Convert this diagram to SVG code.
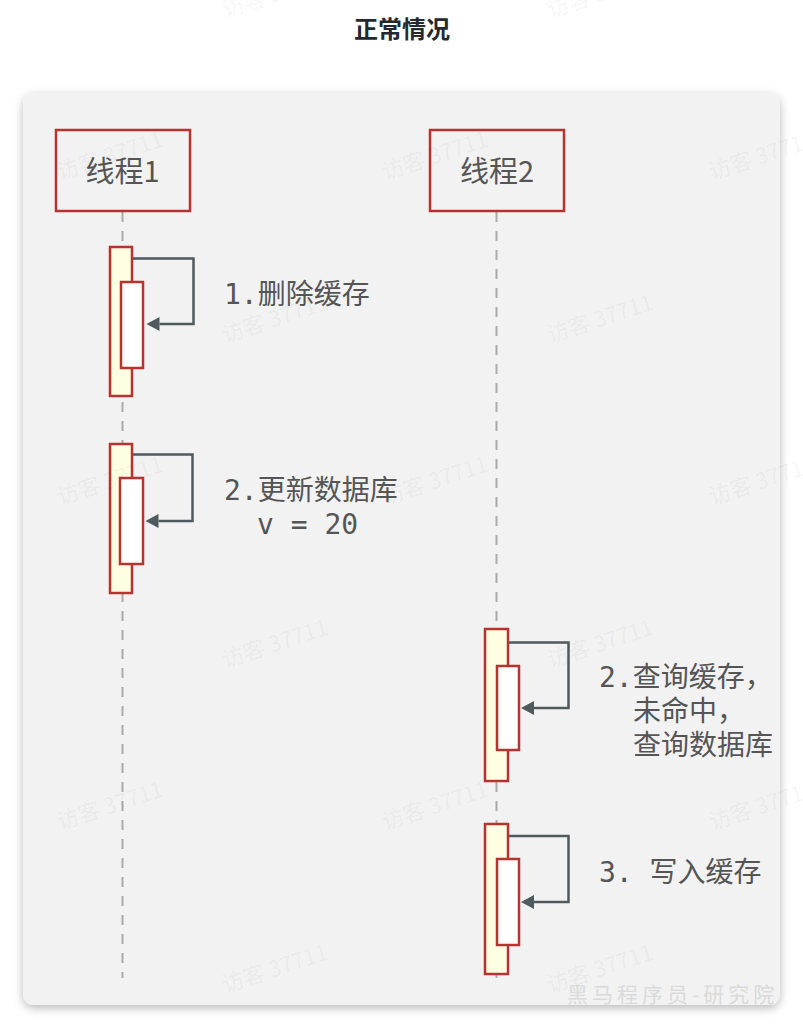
<svg xmlns="http://www.w3.org/2000/svg" width="803" height="1030" viewBox="0 0 803 1030">
  <defs>
    <filter id="shadow" x="-5%" y="-5%" width="110%" height="110%">
      <feDropShadow dx="0" dy="3" stdDeviation="5" flood-color="#000" flood-opacity="0.28"/>
    </filter>
    <marker id="arrow" markerUnits="userSpaceOnUse" markerWidth="14" markerHeight="15" refX="0" refY="7" orient="auto">
      <path d="M0,0 L13,7 L0,14 z" fill="#4f5a5e"/>
    </marker>
    <style>
      .title { font-family: "Noto Sans CJK SC", "Noto Sans", sans-serif; font-size: 24px; font-weight: bold; fill: #24292e; }
      .actor { fill: #f2f2f2; stroke: #b83230; stroke-width: 2.5; }
      .actor-label { font-family: "Noto Sans CJK SC", "Noto Sans", sans-serif; font-size: 29px; fill: #555555; }
      .lifeline { stroke: #aaaaaa; stroke-width: 2; stroke-dasharray: 10 9; fill: none; }
      .act-outer { fill: #fefee2; stroke: #b83230; stroke-width: 2.5; }
      .act-inner { fill: #ffffff; stroke: #b83230; stroke-width: 2.5; }
      .msg { fill: none; stroke: #4f5a5e; stroke-width: 2.5; marker-end: url(#arrow); }
      .msg-label { font-family: "DejaVu Sans Mono", "Noto Sans CJK SC", monospace; font-size: 28px; fill: #555555; }
      .wm { font-family: "Noto Sans CJK SC", "Noto Sans", sans-serif; font-size: 22px; fill: #000000; fill-opacity: 0.055; }
      .wm2 { font-family: "Noto Sans CJK SC", "Noto Sans", sans-serif; font-size: 21px; fill: #dadada; letter-spacing: 4px; }
    </style>
  </defs>

  <rect x="0" y="0" width="803" height="1030" fill="#ffffff"/>

  <text class="title" x="402" y="38" text-anchor="middle">正常情况</text>

  <rect id="panel" x="23" y="93" width="757" height="912" rx="11" ry="11" fill="#f2f2f2" filter="url(#shadow)"/>

  <g id="lifelines">
    <line class="lifeline" x1="122.5" y1="212" x2="122.5" y2="978"/>
    <line class="lifeline" x1="496.5" y1="212" x2="496.5" y2="978"/>
  </g>

  <g id="thread1">
    <rect class="actor" x="56" y="130" width="134" height="81"/>
    <text class="actor-label" x="122.5" y="182" text-anchor="middle">线程1</text>
  </g>
  <g id="thread2">
    <rect class="actor" x="430" y="130" width="134" height="81"/>
    <text class="actor-label" x="497" y="182" text-anchor="middle">线程2</text>
  </g>

  <g id="activations">
    <g id="act-t1-1">
      <rect class="act-outer" x="110" y="247" width="22" height="149"/>
      <rect class="act-inner" x="121" y="282" width="22" height="86"/>
    </g>
    <g id="act-t1-2">
      <rect class="act-outer" x="110" y="444" width="22" height="149"/>
      <rect class="act-inner" x="120" y="478" width="23" height="86"/>
    </g>
    <g id="act-t2-1">
      <rect class="act-outer" x="485" y="629" width="23" height="152"/>
      <rect class="act-inner" x="497" y="666" width="22" height="84"/>
    </g>
    <g id="act-t2-2">
      <rect class="act-outer" x="485" y="824" width="23" height="150"/>
      <rect class="act-inner" x="497" y="859" width="22" height="86"/>
    </g>
  </g>

  <g id="connectors">
    <path class="msg" d="M133,258.5 H193.5 V324 H159.5"/>
    <path class="msg" d="M133,454.5 H192.5 V521 H158.5"/>
    <path class="msg" d="M509,642.5 H568.5 V708 H534"/>
    <path class="msg" d="M509,836 H568.5 V902 H534"/>
  </g>

  <g id="labels">
    <text class="msg-label" x="224" y="304">1.删除缓存</text>
    <text class="msg-label" x="224" y="500">2.更新数据库</text>
    <text class="msg-label" x="257" y="534">v = 20</text>
    <text class="msg-label" x="599" y="687">2.查询缓存，</text>
    <text class="msg-label" x="633" y="721">未命中，</text>
    <text class="msg-label" x="633" y="755">查询数据库</text>
    <text class="msg-label" x="599" y="882">3. 写入缓存</text>
  </g>

  <g id="watermarks">
    <text class="wm2" x="567" y="1002">黑马程序员-研究院</text>
    <text class="wm" transform="translate(225,18) rotate(-18)">访客 37711</text>
    <text class="wm" transform="translate(550,18) rotate(-18)">访客 37711</text>
    <text class="wm" transform="translate(60,180) rotate(-18)">访客 37711</text>
    <text class="wm" transform="translate(385,180) rotate(-18)">访客 37711</text>
    <text class="wm" transform="translate(712,180) rotate(-18)">访客 37711</text>
    <text class="wm" transform="translate(225,343) rotate(-18)">访客 37711</text>
    <text class="wm" transform="translate(550,343) rotate(-18)">访客 37711</text>
    <text class="wm" transform="translate(60,505) rotate(-18)">访客 37711</text>
    <text class="wm" transform="translate(385,505) rotate(-18)">访客 37711</text>
    <text class="wm" transform="translate(712,505) rotate(-18)">访客 37711</text>
    <text class="wm" transform="translate(225,668) rotate(-18)">访客 37711</text>
    <text class="wm" transform="translate(550,668) rotate(-18)">访客 37711</text>
    <text class="wm" transform="translate(60,830) rotate(-18)">访客 37711</text>
    <text class="wm" transform="translate(385,830) rotate(-18)">访客 37711</text>
    <text class="wm" transform="translate(712,830) rotate(-18)">访客 37711</text>
    <text class="wm" transform="translate(225,993) rotate(-18)">访客 37711</text>
    <text class="wm" transform="translate(550,993) rotate(-18)">访客 37711</text>
  </g>
</svg>
